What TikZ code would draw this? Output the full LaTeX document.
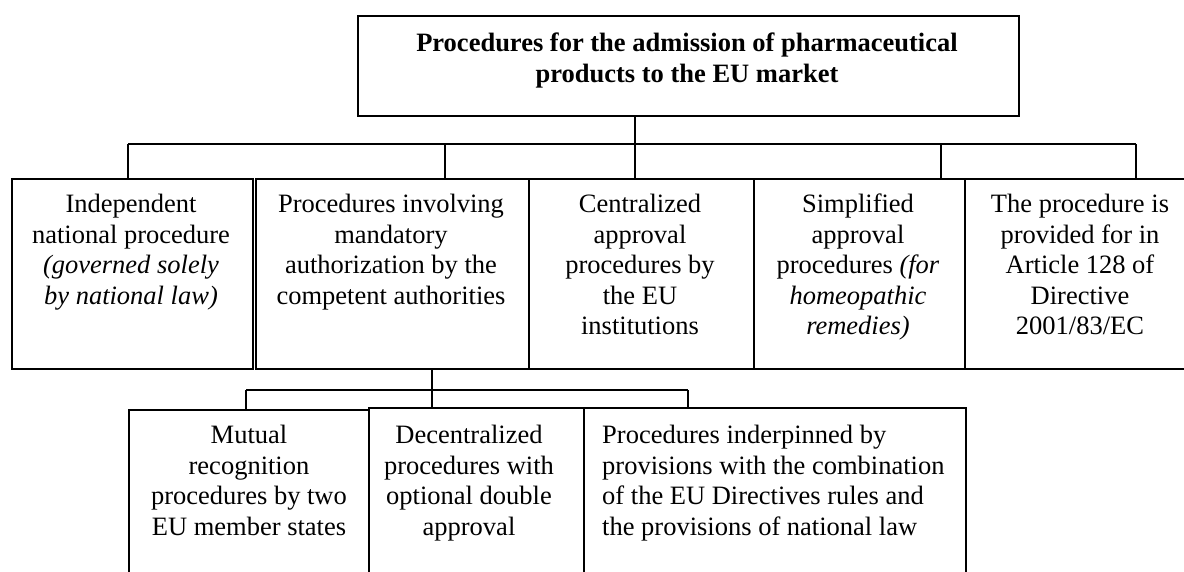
\documentclass[tikz,border=0pt]{standalone}
\usepackage{fontspec}
\setmainfont{Liberation Serif}
\newcommand\myfs{\fontsize{26.5}{30.5}\selectfont}
\begin{document}
\begin{tikzpicture}[x=1pt,y=-1pt,
  box/.style={draw, line width=1.6pt, inner sep=0pt, anchor=north west},
  txt/.style={anchor=north, inner sep=0pt, align=center, font=\myfs},
  conn/.style={line width=1.4pt}]
\useasboundingbox (0,0) rectangle (1184,572);
% title
\node[box, minimum width=661, minimum height=100] (title) at (357,15) {};
\node[txt, font=\myfs\bfseries] (titletext) at (687,33) {Procedures for the admission of pharmaceutical\\products to the EU market};
% first row
\node[box, minimum width=241, minimum height=190] (b1) at (11,178) {};
\node[box, minimum width=273, minimum height=190] (b2) at (255,178) {};
\node[box, minimum width=225, minimum height=190] (b3) at (528,178) {};
\node[box, minimum width=211, minimum height=190] (b4) at (753,178) {};
\node[box, minimum width=232, minimum height=190] (b5) at (964,178) {};
\node[txt] (t1) at (131,194) {Independent\\national procedure\\\textit{(governed solely}\\\textit{by national law)}};
\node[txt] (t2) at (391,194) {Procedures involving\\mandatory\\authorization by the\\competent authorities};
\node[txt] (t3) at (640,194) {Centralized\\approval\\procedures by\\the EU\\institutions};
\node[txt] (t4) at (858,194) {Simplified\\approval\\procedures \textit{(for}\\\textit{homeopathic}\\\textit{remedies)}};
\node[txt] (t5) at (1080,194) {The procedure is\\provided for in\\Article 128 of\\Directive\\2001/83/EC};
% second row
\node[box, minimum width=240, minimum height=180] (bA) at (128,409) {};
\node[box, minimum width=215, minimum height=180] (bB) at (368,407) {};
\node[box, minimum width=382, minimum height=180] (bC) at (583,407) {};
\node[txt] (tA) at (249,425) {Mutual\\recognition\\procedures by two\\EU member states};
\node[txt] (tB) at (469,425) {Decentralized\\procedures with\\optional double\\approval};
\node[txt, anchor=north west, align=left] (tC) at (602,425) {Procedures inderpinned by\\provisions with the combination\\of the EU Directives rules and\\the provisions of national law};
% top connectors
\coordinate (j1) at (128,144);
\coordinate (j2) at (445,144);
\coordinate (j3) at (635,144);
\coordinate (j4) at (941,144);
\coordinate (j5) at (1136,144);
\draw[conn] (j1) -- (j5);
\draw[conn] (title.south -| j3) -- (b3.north -| j3);
\draw[conn] (j1) -- (b1.north -| j1);
\draw[conn] (j2) -- (b2.north -| j2);
\draw[conn] (j4) -- (b4.north -| j4);
\draw[conn] (j5) -- (b5.north -| j5);
% lower connectors
\coordinate (k1) at (246,390);
\coordinate (k2) at (432,390);
\coordinate (k3) at (688,390);
\draw[conn] (k1) -- (k3);
\draw[conn] (b2.south -| k2) -- (bB.north -| k2);
\draw[conn] (k1) -- (bA.north -| k1);
\draw[conn] (k3) -- (bC.north -| k3);
\end{tikzpicture}
\end{document}
